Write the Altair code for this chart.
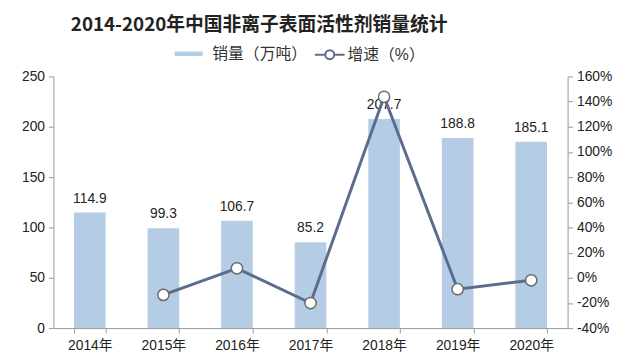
import altair as alt
import pandas as pd

years = ["2014年", "2015年", "2016年", "2017年", "2018年", "2019年", "2020年"]
sales = [114.9, 99.3, 106.7, 85.2, 207.7, 188.8, 185.1]
growth = [None, -13.6, 7.5, -20.1, 143.8, -9.1, -2.0]

sales_name = "销量（万吨）"
growth_name = "增速（%）"

df = pd.DataFrame({"year": years, "sales": sales, "growth": growth,
                   "s1": sales_name, "s2": growth_name})

FONT = "Liberation Sans, Noto Sans CJK SC"
BAR_C = "#b4cde4"
LINE_C = "#5b6d8c"

x = alt.X("year:N", sort=years, title=None,
          scale=alt.Scale(paddingInner=0.57, paddingOuter=0.28),
          axis=alt.Axis(labelAngle=0, labelFontSize=14, labelColor="#222", labelFont=FONT,
                        domainColor="#999", tickColor="#999", tickBand="extent",
                        tickSize=5, labelPadding=6))

left_axis = alt.Axis(values=[0, 50, 100, 150, 200, 250], grid=False, labelFontSize=14,
                     labelColor="#222", labelFont=FONT, domainColor="#999",
                     tickColor="#999", tickSize=5, labelPadding=4, title=None)
right_axis = alt.Axis(orient="right", values=list(range(-40, 161, 20)), grid=False,
                      labelExpr="datum.value + '%'", labelFontSize=14, labelColor="#222",
                      labelFont=FONT, domainColor="#999", tickColor="#999", tickSize=5,
                      labelPadding=4, title=None)
ls = alt.Scale(domain=[0, 250], nice=False)
rs = alt.Scale(domain=[-40, 160], nice=False)

base = alt.Chart(df).encode(x=x)

bars = base.mark_bar(color=BAR_C).encode(
    y=alt.Y("sales:Q", title=None, scale=ls, axis=left_axis),
    color=alt.Color("s1:N", scale=alt.Scale(domain=[sales_name], range=[BAR_C]),
                    legend=alt.Legend(orient="none", legendX=122, legendY=-38, title=None,
                                      symbolType="M-1,-0.16H1V0.16H-1Z", symbolSize=800,
                                      labelFontSize=16, labelFont=FONT, labelColor="#333",
                                      labelOffset=9))
)

labels = base.mark_text(baseline="bottom", dy=-7, fontSize=14, font=FONT, color="#222").encode(
    y=alt.Y("sales:Q", title=None, scale=ls, axis=left_axis),
    text=alt.Text("sales:Q", format=".1f")
)

left = alt.layer(bars, labels)

line = base.transform_filter("isValid(datum.growth)").mark_line(
    color=LINE_C, strokeWidth=3
).encode(
    y=alt.Y("growth:Q", title=None, scale=rs, axis=right_axis),
    stroke=alt.Stroke("s2:N", scale=alt.Scale(domain=[growth_name], range=[LINE_C]),
                      legend=alt.Legend(orient="none", legendX=264, legendY=-38, title=None,
                                        symbolType="M-1,0H-0.3M0.3,0H1M0.3,0A0.3,0.3,0,1,1,-0.3,0A0.3,0.3,0,1,1,0.3,0",
                                        symbolSize=900, symbolStrokeWidth=2,
                                        symbolFillColor="white",
                                        labelFontSize=16, labelFont=FONT, labelColor="#333",
                                        labelOffset=2))
)

points = base.transform_filter("isValid(datum.growth)").mark_point(
    filled=True, fill="white", stroke="#6a6a6a", strokeWidth=1.5, size=130, opacity=1
).encode(
    y=alt.Y("growth:Q", title=None, scale=rs, axis=right_axis)
)

right = alt.layer(line, points)

chart = alt.layer(left, right).resolve_scale(
    y="independent", color="independent", stroke="independent"
).properties(
    width=521, height=255,
    title=alt.TitleParams("2014-2020年中国非离子表面活性剂销量统计", fontSize=19, fontWeight="bold",
                          font="Noto Sans CJK SC", color="#222", anchor="middle", dx=-52, offset=4),
    autosize=alt.AutoSizeParams(type="none"),
    padding={"left": 46, "top": 67, "right": 47, "bottom": 30}
).configure(background="white").configure_view(stroke=None)

chart.save("out.html", embed_options={"renderer": "svg", "actions": False})
